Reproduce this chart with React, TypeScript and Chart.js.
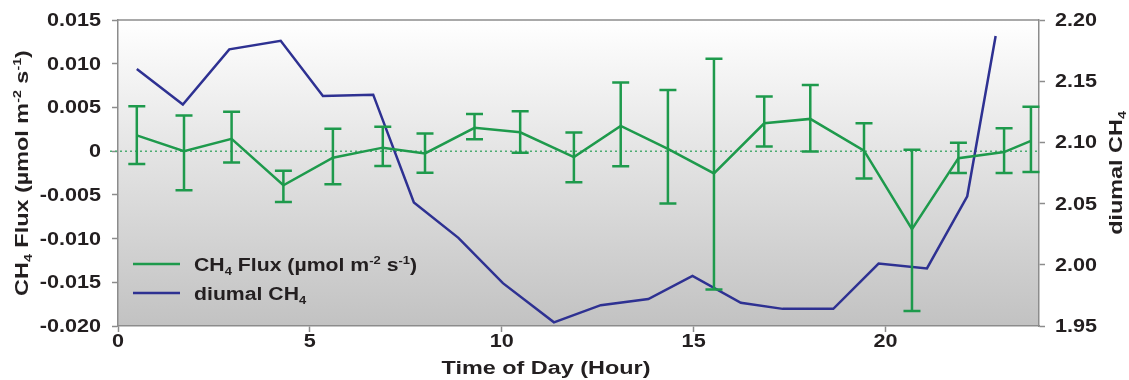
import React, { useEffect, useRef } from 'react';
import { Chart, registerables } from 'chart.js';

Chart.register(...registerables);

// ---- data ----
const fluxHours = [0.49, 1.72, 2.96, 4.31, 5.6, 6.9, 8.0, 9.29, 10.48, 11.88, 13.1, 14.33, 15.53, 16.84, 18.04, 19.44, 20.69, 21.9, 23.09, 23.79];
const fluxValues = [0.0018, 0.0, 0.0014, -0.0039, -0.00075, 0.0004, -0.00026, 0.00267, 0.00216, -0.00068, 0.00289, 0.00027, -0.00254, 0.00319, 0.00369, 0.00005, -0.00892, -0.0008, -0.00011, 0.00118];
const fluxHigh = [0.00513, 0.00407, 0.00452, -0.00223, 0.00255, 0.00278, 0.00202, 0.00426, 0.00456, 0.00213, 0.00786, 0.00699, 0.01056, 0.00626, 0.00756, 0.00319, 0.00016, 0.00096, 0.00262, 0.00509];
const fluxLow = [-0.00148, -0.00448, -0.00129, -0.00581, -0.00379, -0.00171, -0.00246, 0.00137, -0.00018, -0.00356, -0.00174, -0.00599, -0.01583, 0.00054, -0.00003, -0.00314, -0.01829, -0.00251, -0.00251, -0.00239];

const ch4Hours = [0.49, 1.69, 2.9, 4.24, 5.34, 6.65, 7.71, 8.87, 10.03, 11.36, 12.58, 13.82, 14.97, 16.23, 17.32, 18.64, 19.82, 21.08, 22.13, 22.87];
const ch4Values = [2.16, 2.131, 2.176, 2.183, 2.138, 2.139, 2.051, 2.022, 1.985, 1.953, 1.967, 1.972, 1.991, 1.969, 1.964, 1.964, 2.001, 1.997, 2.056, 2.187];

const xTickStep = 5;
const fluxTickStep = 0.005;
const ch4TickStep = 0.05;

const FONT = '"Liberation Sans", Arial, sans-serif';
const TEXT = '#231f20';
const GREEN = '#1e9a4c';
const BLUE = '#2e3192';
const AXIS = '#8c8c8c';

type Seg = { t: string; k?: 'sub' | 'sup' };

const fluxTitle: Seg[] = [
  { t: 'CH' }, { t: '4', k: 'sub' }, { t: ' Flux (\u00b5mol m' }, { t: '-2', k: 'sup' }, { t: ' s' }, { t: '-1', k: 'sup' }, { t: ')' },
];
const ch4Title: Seg[] = [{ t: 'diumal CH' }, { t: '4', k: 'sub' }];
const xTitle: Seg[] = [{ t: 'Time of Day (Hour)' }];

function segFont(s: Seg, size: number) {
  return `bold ${s.k ? Math.round(size * 0.6) : size}px ${FONT}`;
}

// draws rich text with baseline at (x, y), horizontally stretched by sx
function drawRich(
  ctx: CanvasRenderingContext2D, segs: Seg[], x: number, y: number, size: number,
  align: 'left' | 'center' | 'right', sx: number, baseline: CanvasTextBaseline = 'alphabetic',
) {
  let w = 0;
  for (const s of segs) {
    ctx.font = segFont(s, size);
    w += ctx.measureText(s.t).width;
  }
  ctx.save();
  ctx.translate(x, y);
  ctx.scale(sx, 1);
  let cx = align === 'center' ? -w / 2 : align === 'right' ? -w : 0;
  ctx.textAlign = 'left';
  ctx.textBaseline = baseline;
  ctx.fillStyle = TEXT;
  for (const s of segs) {
    ctx.font = segFont(s, size);
    const dy = s.k === 'sub' ? size * 0.22 : s.k === 'sup' ? -size * 0.38 : 0;
    ctx.fillText(s.t, cx, dy);
    cx += ctx.measureText(s.t).width;
  }
  ctx.restore();
}

const TICK_SX = 1.2;
const TITLE_SX = 1.3;
const LEGEND_SX = 1.18;

const decorPlugin = {
  id: 'decor',
  beforeDraw(chart: any) {
    const { ctx, chartArea: a } = chart;
    ctx.save();
    ctx.fillStyle = '#ffffff';
    ctx.fillRect(0, 0, chart.width, chart.height);
    const g = ctx.createLinearGradient(0, a.top, 0, a.bottom);
    g.addColorStop(0, '#ffffff');
    g.addColorStop(0.45, '#e3e3e3');
    g.addColorStop(1, '#c2c2c2');
    ctx.fillStyle = g;
    ctx.fillRect(a.left, a.top, a.right - a.left, a.bottom - a.top);
    ctx.restore();
  },
  beforeDatasetsDraw(chart: any) {
    const { ctx, chartArea: a, scales } = chart;
    const y0 = scales.y.getPixelForValue(0);
    ctx.save();
    ctx.strokeStyle = '#4dac72';
    ctx.lineWidth = 1.5;
    ctx.setLineDash([2, 3]);
    ctx.beginPath();
    ctx.moveTo(a.left - 8, y0);
    ctx.lineTo(a.right, y0);
    ctx.stroke();
    ctx.restore();
  },
  afterDatasetsDraw(chart: any) {
    const { ctx, scales } = chart;
    ctx.save();
    ctx.strokeStyle = GREEN;
    ctx.lineWidth = 2.5;
    ctx.lineCap = 'butt';
    for (let i = 0; i < fluxHours.length; i++) {
      const x = scales.x.getPixelForValue(fluxHours[i]);
      const yh = scales.y.getPixelForValue(fluxHigh[i]);
      const yl = scales.y.getPixelForValue(fluxLow[i]);
      ctx.beginPath();
      ctx.moveTo(x, yh);
      ctx.lineTo(x, yl);
      ctx.moveTo(x - 8.5, yh);
      ctx.lineTo(x + 8.5, yh);
      ctx.moveTo(x - 8.5, yl);
      ctx.lineTo(x + 8.5, yl);
      ctx.stroke();
    }
    ctx.restore();
  },
  afterDraw(chart: any) {
    const { ctx, chartArea: a, scales } = chart;
    ctx.save();
    // top frame
    ctx.strokeStyle = AXIS;
    ctx.lineWidth = 1.5;
    ctx.beginPath();
    ctx.moveTo(a.left, a.top);
    ctx.lineTo(a.right, a.top);
    ctx.stroke();

    // tick labels, from the scales' own ticks
    for (const t of scales.y.ticks) {
      const y = scales.y.getPixelForValue(t.value);
      drawRich(ctx, [{ t: String(t.label) }], a.left - 17, y + 1, 18, 'right', TICK_SX, 'middle');
    }
    for (const t of scales.y1.ticks) {
      const y = scales.y1.getPixelForValue(t.value);
      drawRich(ctx, [{ t: String(t.label) }], a.right + 16, y + 1, 18, 'left', TICK_SX, 'middle');
    }
    for (const t of scales.x.ticks) {
      const x = scales.x.getPixelForValue(t.value);
      drawRich(ctx, [{ t: String(t.label) }], x, 347, 18, 'center', TICK_SX, 'alphabetic');
    }

    // axis titles
    ctx.save();
    ctx.translate(28, (a.top + a.bottom) / 2);
    ctx.rotate(-Math.PI / 2);
    drawRich(ctx, fluxTitle, 0, 0, 18, 'center', TITLE_SX);
    ctx.restore();

    ctx.save();
    ctx.translate(1122, (a.top + a.bottom) / 2);
    ctx.rotate(-Math.PI / 2);
    drawRich(ctx, ch4Title, 0, 0, 18, 'center', TITLE_SX);
    ctx.restore();

    drawRich(ctx, xTitle, 546, 374, 18, 'center', TITLE_SX);

    // legend
    ctx.lineWidth = 2.5;
    ctx.strokeStyle = GREEN;
    ctx.beginPath();
    ctx.moveTo(133, 264);
    ctx.lineTo(180, 264);
    ctx.stroke();
    ctx.strokeStyle = BLUE;
    ctx.beginPath();
    ctx.moveTo(133, 293);
    ctx.lineTo(180, 293);
    ctx.stroke();
    drawRich(ctx, fluxTitle, 194, 271, 18, 'left', LEGEND_SX);
    drawRich(ctx, ch4Title, 194, 300, 18, 'left', LEGEND_SX);
    ctx.restore();
  },
};

export default function App() {
  const ref = useRef<HTMLCanvasElement | null>(null);

  useEffect(() => {
    if (!ref.current) return;
    const gridOpts = { drawOnChartArea: false, drawTicks: true, tickLength: 6, tickColor: AXIS, tickWidth: 1.5 };
    const chart = new Chart(ref.current, {
      type: 'line',
      data: {
        datasets: [
          {
            label: 'CH4 Flux',
            data: fluxHours.map((h, i) => ({ x: h, y: fluxValues[i] })),
            borderColor: GREEN,
            borderWidth: 2.5,
            pointRadius: 0,
            tension: 0,
            yAxisID: 'y',
          },
          {
            label: 'diurnal CH4',
            data: ch4Hours.map((h, i) => ({ x: h, y: ch4Values[i] })),
            borderColor: BLUE,
            borderWidth: 2.5,
            pointRadius: 0,
            tension: 0,
            yAxisID: 'y1',
          },
        ],
      },
      options: {
        animation: false,
        responsive: false,
        devicePixelRatio: 1,
        layout: { padding: { top: 20, left: 0, right: 0, bottom: 0 } },
        plugins: { legend: { display: false }, tooltip: { enabled: false } },
        scales: {
          x: {
            type: 'linear',
            position: 'bottom',
            min: 0,
            max: 24,
            ticks: { stepSize: xTickStep, includeBounds: false, display: false },
            grid: gridOpts,
            border: { color: AXIS, width: 1.5 },
            afterFit: (s: any) => { s.height = 54; },
          },
          y: {
            type: 'linear',
            position: 'left',
            min: -0.02,
            max: 0.015,
            ticks: {
              stepSize: fluxTickStep,
              display: false,
              callback: (v: any) => (Math.abs(Number(v)) < 1e-9 ? '0' : Number(v).toFixed(3)),
            },
            grid: gridOpts,
            border: { color: AXIS, width: 1.5 },
            afterFit: (s: any) => { s.width = 118; },
          },
          y1: {
            type: 'linear',
            position: 'right',
            min: 1.95,
            max: 2.2,
            ticks: {
              stepSize: ch4TickStep,
              display: false,
              callback: (v: any) => Number(v).toFixed(2),
            },
            grid: gridOpts,
            border: { color: AXIS, width: 1.5 },
            afterFit: (s: any) => { s.width = 90; },
          },
        },
      },
      plugins: [decorPlugin],
    });
    return () => chart.destroy();
  }, []);

  return (
    <div style={{ position: 'absolute', left: 0, top: 0, width: 1129, height: 380 }}>
      <canvas ref={ref} width={1129} height={380} style={{ width: 1129, height: 380, display: 'block' }} />
    </div>
  );
}
